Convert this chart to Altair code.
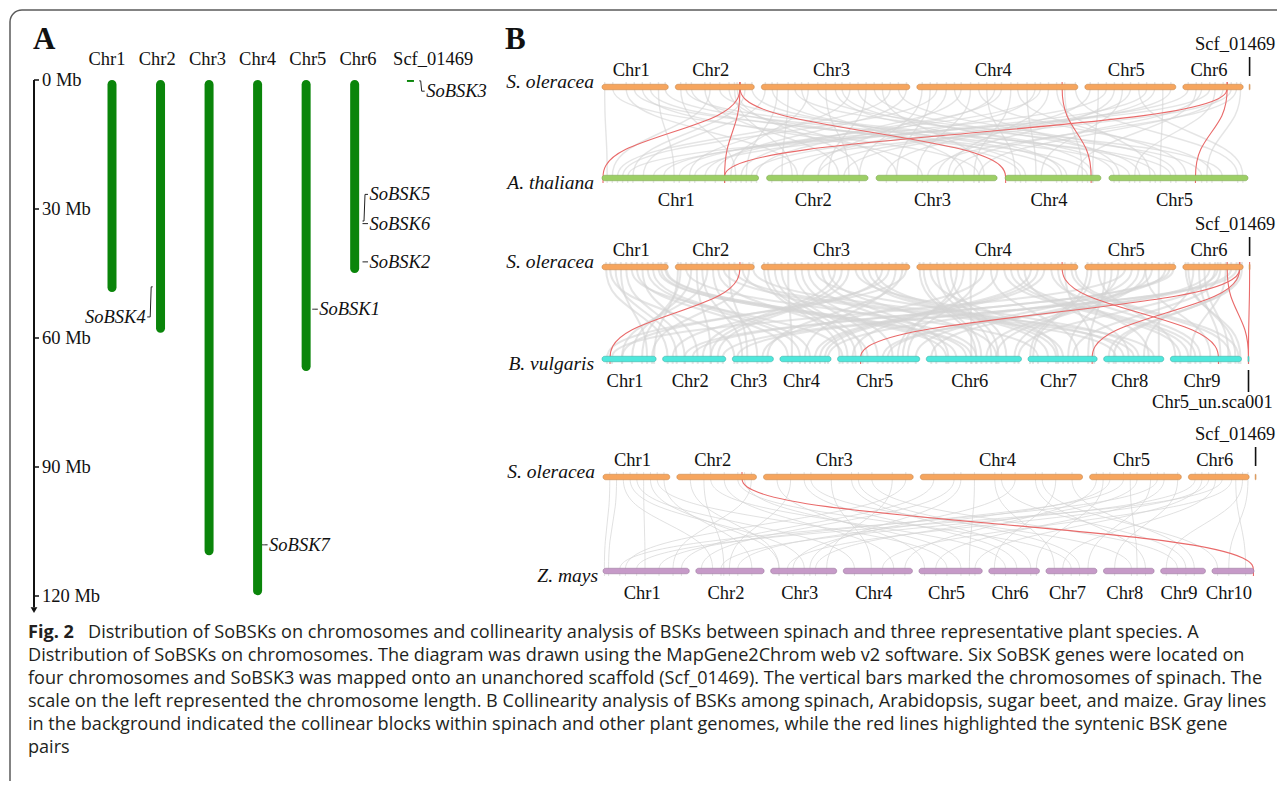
import altair as alt
import pandas as pd

W, H = 1269, 773
SERIF = "Liberation Serif"
SANS = "Open Sans"

# ======================= DATA =======================
# ---- Panel A: spinach chromosomes (Mb) and SoBSK genes ----
a_chr = ["Chr1", "Chr2", "Chr3", "Chr4", "Chr5", "Chr6", "Scf_01469"]
a_len_mb = [49.3, 58.8, 110.5, 119.8, 67.7, 44.9, 0.45]
gene_name = ["SoBSK1", "SoBSK2", "SoBSK3", "SoBSK4", "SoBSK5", "SoBSK6", "SoBSK7"]
gene_chr = ["Chr5", "Chr6", "Scf_01469", "Chr2", "Chr6", "Chr6", "Chr4"]
gene_mb = [53.3, 42.3, 0.2, 48.1, 32.8, 33.4, 108.1]
gene_label_mb = [53.3, 42.3, 2.6, 55.1, 26.6, 33.4, 108.1]
gene_side = ["R", "R", "R", "L", "R", "R", "R"]
scale_mb = [0, 30, 60, 90, 120]
scale_text = ["0 Mb", "30 Mb", "60 Mb", "90 Mb", "120 Mb"]

# ---- Panel B: genomes (Mb) ----
so_chr = ["Chr1", "Chr2", "Chr3", "Chr4", "Chr5", "Chr6", "Scf_01469"]
so_len = [49.3, 58.8, 110.5, 119.8, 67.7, 44.9, 0.6]
at_chr = ["Chr1", "Chr2", "Chr3", "Chr4", "Chr5"]
at_len = [30.4, 19.7, 23.5, 18.6, 27.0]
bv_chr = ["Chr1", "Chr2", "Chr3", "Chr4", "Chr5", "Chr6", "Chr7", "Chr8", "Chr9", "Chr5_un.sca001"]
bv_len = [54, 63, 41, 51, 82, 95, 69, 60, 71, 1.0]
zm_chr = ["Chr1", "Chr2", "Chr3", "Chr4", "Chr5", "Chr6", "Chr7", "Chr8", "Chr9", "Chr10"]
zm_len = [308, 244, 236, 247, 226, 181, 182, 181, 160, 150]

# collinear blocks: (spinach chr, Mb, other chr, Mb)
gray_so_at = [
    (1, 2, 1, 1), (1, 18, 2, 6), (1, 30, 3, 9), (1, 42, 1, 14), (1, 47, 5, 4),
    (2, 4, 1, 26), (2, 12, 4, 3), (2, 22, 2, 14), (2, 33, 5, 9), (2, 40, 3, 4), (2, 52, 1, 6), (2, 57, 4, 12),
    (3, 3, 1, 8), (3, 12, 1, 28), (3, 20, 2, 3), (3, 30, 3, 17), (3, 42, 5, 22), (3, 55, 4, 11),
    (3, 66, 1, 17), (3, 78, 2, 12), (3, 90, 3, 21), (3, 102, 5, 13), (3, 108, 1, 22),
    (4, 4, 2, 18), (4, 15, 1, 4), (4, 28, 5, 2), (4, 40, 3, 8), (4, 52, 4, 2), (4, 63, 1, 20),
    (4, 75, 5, 15), (4, 88, 2, 7), (4, 98, 3, 14), (4, 110, 4, 15), (4, 118, 5, 25),
    (5, 4, 3, 2), (5, 16, 1, 12), (5, 28, 4, 7), (5, 40, 5, 26), (5, 52, 2, 10), (5, 64, 1, 29),
    (6, 4, 1, 10), (6, 14, 3, 15), (6, 24, 5, 5), (6, 36, 2, 1), (6, 43, 5, 19),
    (1, 24, 4, 16), (2, 46, 2, 18), (3, 60, 5, 1), (4, 33, 1, 27), (5, 10, 4, 17), (6, 30, 3, 20),
    (1, 8, 3, 20), (1, 36, 4, 10), (2, 8, 5, 12), (2, 26, 1, 2), (2, 44, 2, 5), (3, 8, 4, 4), (3, 25, 5, 18),
    (3, 35, 1, 25), (3, 48, 2, 16), (3, 72, 4, 17), (3, 84, 5, 6), (3, 96, 1, 3), (4, 10, 3, 4), (4, 22, 2, 10),
    (4, 46, 5, 20), (4, 58, 1, 30), (4, 70, 3, 19), (4, 82, 4, 6), (4, 92, 1, 15), (4, 104, 5, 8),
    (5, 22, 3, 12), (5, 34, 2, 15), (5, 46, 1, 18), (5, 58, 5, 10), (6, 10, 4, 14), (6, 20, 1, 5), (6, 40, 3, 10),
]
gray_so_bv = [
    (1, 3, 2, 5), (1, 10, 2, 14), (1, 18, 2, 22), (1, 22, 5, 5), (1, 26, 4, 8), (1, 34, 4, 20), (1, 42, 6, 30), (1, 47, 6, 40),
    (2, 4, 1, 40), (2, 8, 7, 10), (2, 12, 1, 30), (2, 20, 3, 10), (2, 28, 3, 25), (2, 36, 8, 12), (2, 44, 8, 30),
    (2, 50, 6, 50), (2, 55, 1, 50),
    (3, 5, 5, 10), (3, 15, 5, 25), (3, 25, 5, 40), (3, 35, 6, 10), (3, 40, 8, 20), (3, 45, 6, 22), (3, 55, 2, 40),
    (3, 65, 2, 55), (3, 75, 7, 20), (3, 85, 7, 35), (3, 95, 1, 20), (3, 100, 4, 25), (3, 105, 3, 35),
    (4, 5, 6, 55), (4, 15, 6, 65), (4, 25, 6, 80), (4, 35, 5, 60), (4, 45, 5, 70), (4, 50, 3, 30), (4, 55, 7, 50),
    (4, 65, 9, 10), (4, 75, 9, 25), (4, 85, 4, 35), (4, 95, 4, 45), (4, 100, 9, 30), (4, 105, 8, 45), (4, 115, 9, 60),
    (5, 5, 7, 5), (5, 15, 7, 60), (5, 25, 6, 88), (5, 30, 1, 10), (5, 35, 5, 78), (5, 45, 9, 40), (5, 50, 6, 5),
    (5, 55, 8, 55), (5, 63, 2, 30),
    (6, 4, 9, 65), (6, 12, 9, 50), (6, 20, 5, 50), (6, 28, 7, 45), (6, 36, 3, 5), (6, 40, 2, 60), (6, 44, 8, 5),
    (1, 6, 3, 2), (1, 14, 1, 45), (2, 16, 2, 48), (2, 32, 5, 30), (3, 20, 4, 12), (3, 50, 6, 70), (3, 70, 8, 35),
    (3, 90, 2, 10), (4, 10, 7, 30), (4, 40, 6, 45), (4, 60, 5, 15), (4, 80, 8, 25), (4, 110, 7, 66),
    (5, 10, 9, 5), (5, 40, 6, 60), (5, 60, 4, 48), (6, 8, 8, 40), (6, 24, 6, 92), (6, 32, 9, 20),
    (1, 30, 2, 35), (1, 38, 4, 30), (1, 44, 6, 20), (2, 24, 1, 20), (2, 40, 3, 15), (2, 58, 8, 50), (3, 10, 5, 18),
    (3, 30, 5, 55), (3, 60, 2, 48), (3, 80, 7, 28), (3, 108, 1, 5), (4, 20, 6, 72), (4, 30, 5, 65), (4, 70, 9, 18),
    (4, 90, 4, 40), (4, 118, 9, 68), (5, 20, 7, 40), (5, 45, 6, 70), (5, 66, 2, 22), (6, 16, 9, 58), (6, 26, 5, 45),
    (6, 42, 8, 10), (2, 2, 1, 52), (3, 2, 5, 2), (4, 2, 6, 50), (5, 2, 7, 2), (6, 2, 9, 70), (1, 48, 6, 45),
]
gray_so_zm = [
    (1, 10, 1, 20), (1, 15, 2, 60), (1, 20, 3, 120), (1, 25, 4, 40), (1, 30, 1, 150), (1, 40, 5, 100), (1, 45, 2, 200),
    (2, 10, 3, 30), (2, 25, 6, 60), (2, 35, 4, 180), (2, 45, 7, 90), (2, 55, 1, 250),
    (3, 10, 5, 20), (3, 20, 2, 120), (3, 35, 8, 100), (3, 50, 4, 100), (3, 65, 6, 150), (3, 80, 9, 60),
    (3, 95, 3, 200), (3, 105, 1, 80),
    (4, 10, 1, 280), (4, 25, 2, 20), (4, 40, 5, 180), (4, 55, 7, 30), (4, 70, 3, 80), (4, 85, 8, 150),
    (4, 100, 6, 20), (4, 112, 9, 120),
    (5, 5, 4, 220), (5, 15, 2, 150), (5, 25, 1, 200), (5, 35, 3, 160), (5, 45, 7, 150), (5, 55, 5, 60), (5, 65, 8, 40),
    (6, 5, 2, 90), (6, 15, 3, 60), (6, 25, 1, 120), (6, 32, 4, 140), (6, 40, 9, 20), (6, 44, 10, 60),
    (1, 5, 1, 5), (1, 35, 3, 30), (2, 20, 2, 100), (2, 50, 5, 150), (3, 30, 6, 100), (3, 70, 7, 120), (4, 30, 3, 140),
    (4, 60, 9, 90), (4, 90, 10, 20), (5, 10, 6, 170), (5, 30, 8, 120), (5, 50, 1, 60), (6, 10, 5, 200),
    (6, 20, 7, 60), (6, 35, 10, 120),
]
# syntenic BSK gene pairs
red_so_at = [(2, 48.1, 1, 0.2), (2, 48.1, 1, 23.8), (2, 48.1, 4, 0.1), (4, 108.1, 4, 16.7), (6, 33.0, 1, 23.8), (6, 33.0, 5, 16.8)]
red_so_bv = [(2, 48.1, 1, 8), (4, 108.1, 9, 48), (6, 42.3, 5, 23), (6, 42.3, 7, 64), (6, 33.0, 10, 0.5), (7, 0.3, 10, 0.5)]
red_so_zm = [(2, 48.1, 10, 148)]

caption_lines = [
    "Distribution of SoBSKs on chromosomes and collinearity analysis of BSKs between spinach and three representative plant species. A",
    "Distribution of SoBSKs on chromosomes. The diagram was drawn using the MapGene2Chrom web v2 software. Six SoBSK genes were located on",
    "four chromosomes and SoBSK3 was mapped onto an unanchored scaffold (Scf_01469). The vertical bars marked the chromosomes of spinach. The",
    "scale on the left represented the chromosome length. B Collinearity analysis of BSKs among spinach, Arabidopsis, sugar beet, and maize. Gray lines",
    "in the background indicated the collinear blocks within spinach and other plant genomes, while the red lines highlighted the syntenic BSK gene",
    "pairs",
]


# ======================= HELPERS =======================
def lin(domain, rng):
    return alt.Scale(domain=list(domain), range=list(rng), nice=False, zero=False)


def one():
    return alt.Chart(pd.DataFrame({"k": [0]}))


layers = []

# frame
layers.append(one().mark_rect(fillOpacity=0, stroke="#5b5b5b", strokeWidth=1.5, cornerRadius=12).encode(
    x=alt.value(2), x2=alt.value(W + 40), y=alt.value(2), y2=alt.value(H + 40)))

# panel letters
for letter, px in [("A", 25), ("B", 497)]:
    layers.append(one().mark_text(text=letter, font=SERIF, fontSize=31, fontWeight="bold", align="left",
                                  baseline="middle", color="#111").encode(x=alt.value(px), y=alt.value(32)))

# ======================= PANEL A =======================
A_X0, A_STEP = 99.0, 50.2
SCF_SHIFT = 7.5 / A_STEP
xA = lin([1, 7], [A_X0, A_X0 + 6 * A_STEP])
yA = lin([0, 120], [72, 588])
GREEN = "#0a850a"

slot = {c: i + 1 + (SCF_SHIFT if c.startswith("Scf") else 0) for i, c in enumerate(a_chr)}
dfA = pd.DataFrame({"chr": a_chr, "slot": [slot[c] for c in a_chr], "start": 0.0, "end": a_len_mb})
dfA["scf"] = dfA["chr"].str.startswith("Scf")
dfA["lab_slot"] = dfA["slot"] + dfA["scf"] * (17.5 / A_STEP)

XA = lambda f: alt.X(f, type="quantitative", scale=xA, axis=None)
YA = lambda f: alt.Y(f, type="quantitative", scale=yA, axis=None)

layers.append(alt.Chart(dfA[~dfA["scf"]]).mark_bar(orient="vertical", size=9, cornerRadius=4.5, color=GREEN).encode(
    x=XA("slot"), y=YA("start"), y2="end"))
layers.append(alt.Chart(dfA[dfA["scf"]]).mark_bar(orient="vertical", size=7, color=GREEN).encode(
    x=XA("slot"), y=YA("start"), y2="end"))
layers.append(alt.Chart(dfA).mark_text(font=SERIF, fontSize=18.5, baseline="middle", align="center", color="#111").encode(
    x=XA("lab_slot"), y=alt.value(51), text="chr:N"))

conn, glab = [], []
for g, c, m, lm, s in zip(gene_name, gene_chr, gene_mb, gene_label_mb, gene_side):
    half = 3.5 if c.startswith("Scf") else 4.5
    sgn = 1 if s == "R" else -1
    for k, (d, yy) in enumerate([(half, m), (half + 1.5, m), (half + 2.5, lm), (half + 5.5, lm)]):
        conn.append({"gene": g, "ord": k, "x": slot[c] + sgn * d / A_STEP, "y": yy})
    glab.append({"gene": g, "side": s, "x": slot[c] + sgn * (half + 7) / A_STEP, "y": lm})
dfConn, dfGlab = pd.DataFrame(conn), pd.DataFrame(glab)
layers.append(alt.Chart(dfConn).mark_line(color="#222", strokeWidth=1).encode(
    x=XA("x"), y=YA("y"), detail="gene:N", order="ord:Q"))
for side, al in [("R", "left"), ("L", "right")]:
    layers.append(alt.Chart(dfGlab[dfGlab["side"] == side]).mark_text(
        font=SERIF, fontSize=18.5, fontStyle="italic", align=al, baseline="middle", color="#111").encode(
        x=XA("x"), y=YA("y"), text="gene:N"))

# scale bar
AXIS_X = 26
dfAx = pd.DataFrame({"y0": [0.0], "y1": [122.6], "tip": [123.3]})
layers.append(alt.Chart(dfAx).mark_rule(color="#111", strokeWidth=2).encode(
    x=alt.value(AXIS_X), y=YA("y0"), y2="y1"))
layers.append(alt.Chart(dfAx).mark_point(shape="triangle-down", filled=True, size=45, color="#111", opacity=1).encode(
    x=alt.value(AXIS_X), y=YA("tip")))
dfTk = pd.DataFrame({"mb": scale_mb, "t": scale_text})
layers.append(alt.Chart(dfTk).mark_rule(color="#111", strokeWidth=1.5).encode(
    x=alt.value(AXIS_X), x2=alt.value(AXIS_X + 5), y=YA("mb")))
layers.append(alt.Chart(dfTk).mark_text(font=SERIF, fontSize=18.5, align="left", baseline="middle", color="#111").encode(
    x=alt.value(AXIS_X + 8), y=YA("mb"), text="t:N"))

# ======================= PANEL B =======================
SPECIES = {
    "so": dict(label="S. oleracea", chrs=so_chr, lens=so_len, gaps=[7, 7, 7, 7, 7, 6], span=None,
               fill="#F6A55E", edge="#C98A4E", dx=-8),
    "at": dict(label="A. thaliana", chrs=at_chr, lens=at_len, gaps=[8] * 4, span=646,
               fill="#9DCF66", edge="#7FA955", dx=-8),
    "bv": dict(label="B. vulgaris", chrs=bv_chr, lens=bv_len, gaps=[6.5] * 9, span=647,
               fill="#4FE8DC", edge="#3DB3AA", dx=-8),
    "zm": dict(label="Z. mays", chrs=zm_chr, lens=zm_len, gaps=[6.5] * 9, span=651,
               fill="#C69AC8", edge="#9E7AA0", dx=-5),
}
PANELS = [
    dict(other="at", ytop=74, ybot=175, x0=594, span=648, gray=gray_so_at, red=red_so_at, scf_dx=-14.5,
         gray_w=1.4, gray_op=0.6),
    dict(other="bv", ytop=254, ybot=356, x0=594, span=648, gray=gray_so_bv, red=red_so_bv, scf_dx=-14.5,
         gray_w=2.0, gray_op=0.6),
    dict(other="zm", ytop=464, ybot=568, x0=595, span=653, gray=gray_so_zm, red=red_so_zm, scf_dx=-20.5,
         gray_w=1.0, gray_op=0.7),
]
SPECIAL = {"Scf_01469", "Chr5_un.sca001"}


def layout(sp, span):
    info = SPECIES[sp]
    k = (span - sum(info["gaps"])) / sum(info["lens"])
    starts, pos = [], 0.0
    for i, L in enumerate(info["lens"]):
        starts.append(pos)
        pos += L * k
        if i < len(info["gaps"]):
            pos += info["gaps"][i]
    return starts, k


for pi, P in enumerate(PANELS):
    pspan = P["span"]
    xs = lin([0, 1], [P["x0"], P["x0"] + pspan])
    ys = lin([0, 1], [P["ytop"], P["ybot"]])
    XB = lambda f: alt.X(f, type="quantitative", scale=xs, axis=None)
    YB = lambda f: alt.Y(f, type="quantitative", scale=ys, axis=None)
    ypx = P["ybot"] - P["ytop"]

    lay = {}
    for sp, row in [("so", 0), (P["other"], 1)]:
        sspan = pspan if SPECIES[sp]["span"] is None else SPECIES[sp]["span"]
        lay[sp] = layout(sp, sspan)

    def frac(sp, ci, mb):
        st, k = lay[sp]
        return (st[ci - 1] + mb * k) / pspan

    # links: smooth S-curves between the two genomes
    for kind, lst, col, sw, op in [("gray", P["gray"], "#d4d4d4", P["gray_w"], P["gray_op"]),
                                   ("red", P["red"], "#E96A6A", 1.1, 1.0)]:
        rows = []
        for j, (c1, m1, c2, m2) in enumerate(lst):
            xa, xb = frac("so", c1, m1), frac(P["other"], c2, m2)
            for o, (xx, yy) in enumerate([(xa, 0), (xa, 1 / 3), (xb, 2 / 3), (xb, 1)]):
                rows.append({"id": j, "ord": o, "x": xx, "y": yy})
        layers.append(alt.Chart(pd.DataFrame(rows)).mark_line(
            interpolate="basis", color=col, strokeWidth=sw, opacity=op).encode(
            x=XB("x"), y=YB("y"), detail="id:N", order="ord:Q"))

    # chromosome bars + labels
    bars, labs, spec = [], [], []
    for sp, row in [("so", 0), (P["other"], 1)]:
        info = SPECIES[sp]
        st, k = lay[sp]
        for ci, (c, L) in enumerate(zip(info["chrs"], info["lens"])):
            a = st[ci] / pspan
            b = (st[ci] + L * k) / pspan
            bars.append({"x": a, "x2": b, "y": row, "fill": info["fill"], "edge": info["edge"]})
            item = {"x": (a + b) / 2, "y": row, "t": c, "row": row}
            (spec if c in SPECIAL else labs).append(item)
    dfBars = pd.DataFrame(bars)
    layers.append(alt.Chart(dfBars).mark_bar(orient="horizontal", size=5.5, cornerRadius=2.7, strokeWidth=0.6).encode(
        x=XB("x"), x2="x2", y=YB("y"),
        fill=alt.Fill("fill:N", scale=None), stroke=alt.Stroke("edge:N", scale=None)))
    dfLab = pd.DataFrame(labs)
    for row, dy in [(0, -12.5), (1, 17)]:
        layers.append(alt.Chart(dfLab[dfLab["row"] == row]).mark_text(
            font=SERIF, fontSize=18.5, align="center", baseline="middle", dx=-4, dy=dy, color="#111").encode(
            x=XB("x"), y=YB("y"), text="t:N"))
    # species names
    for sp, row in [("so", 0), (P["other"], 1)]:
        dfSp = pd.DataFrame({"t": [SPECIES[sp]["label"]], "y": [row], "x": [0]})
        layers.append(alt.Chart(dfSp).mark_text(
            font=SERIF, fontSize=19.5, fontStyle="italic", align="right", baseline="middle",
            dx=SPECIES[sp]["dx"], color="#111").encode(x=XB("x"), y=YB("y"), text="t:N"))
    # unanchored scaffolds: label + pointer
    for it in spec:
        up = it["row"] == 0
        dfS = pd.DataFrame({"x": [it["x"]], "y": [it["y"]], "t": [it["t"]],
                            "y1": [it["y"] + (-25 if up else 6) / ypx], "y2": [it["y"] + (-6 if up else 28) / ypx]})
        layers.append(alt.Chart(dfS).mark_rule(color="#111", strokeWidth=1.6).encode(
            x=XB("x"), y=YB("y1"), y2="y2"))
        layers.append(alt.Chart(dfS).mark_text(
            font=SERIF, fontSize=18.5, align="center", baseline="middle",
            dx=P["scf_dx"] if up else -36, dy=-38 if up else 38, color="#111").encode(
            x=XB("x"), y=YB("y"), text="t:N"))

# ======================= CAPTION =======================
CAP_SIZE = 18.1
dfCap = pd.DataFrame({"i": list(range(len(caption_lines))), "t": caption_lines})
ycap = lin([0, 5], [625, 740])
layers.append(one().mark_text(text="Fig. 2", font=SANS, fontSize=CAP_SIZE, fontWeight="bold", align="left",
                              baseline="middle", color="#231f20").encode(x=alt.value(20), y=alt.value(625)))
layers.append(alt.Chart(dfCap[dfCap["i"] == 0]).mark_text(
    font=SANS, fontSize=CAP_SIZE, align="left", baseline="middle", color="#231f20").encode(
    x=alt.value(80), y=alt.Y("i:Q", scale=ycap, axis=None), text="t:N"))
layers.append(alt.Chart(dfCap[dfCap["i"] > 0]).mark_text(
    font=SANS, fontSize=CAP_SIZE, align="left", baseline="middle", color="#231f20").encode(
    x=alt.value(20), y=alt.Y("i:Q", scale=ycap, axis=None), text="t:N"))

chart = alt.layer(*layers).resolve_scale(x="independent", y="independent").properties(
    width=W, height=H, autosize="none", padding=0
).configure_view(strokeWidth=0)

chart.save("out.html", embed_options={"renderer": "svg", "actions": False})
